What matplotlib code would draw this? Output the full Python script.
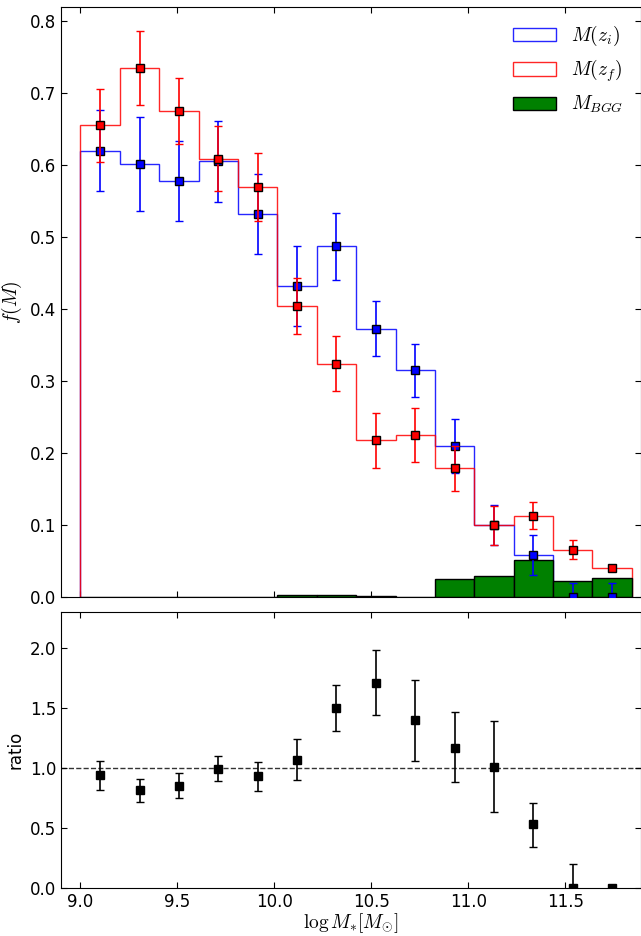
import numpy as np
import matplotlib
matplotlib.use("Agg")
import matplotlib.pyplot as plt

plt.rcParams['mathtext.fontset'] = 'cm'
plt.rcParams['font.size'] = 12
plt.rcParams['xtick.direction'] = 'in'
plt.rcParams['ytick.direction'] = 'in'
plt.rcParams['xtick.top'] = True
plt.rcParams['ytick.right'] = True
plt.rcParams['xtick.major.size'] = 4.5
plt.rcParams['ytick.major.size'] = 4.5

# mass bins (log M*)
edges = np.linspace(9.0, 11.842, 15)
centers = 0.5 * (edges[:-1] + edges[1:])

# mass function at z_i
f_zi = [0.620, 0.601, 0.578, 0.605, 0.532, 0.432, 0.487, 0.373, 0.315, 0.210, 0.100, 0.059, 0.0, 0.0]
f_zi_err = [0.056, 0.065, 0.056, 0.056, 0.056, 0.056, 0.047, 0.038, 0.037, 0.037, 0.028, 0.028, 0.0, 0.0]
f_zi_err_up = [0.056, 0.065, 0.056, 0.056, 0.056, 0.056, 0.047, 0.038, 0.037, 0.037, 0.028, 0.028, 0.019, 0.019]

# mass function at z_f
f_zf = [0.655, 0.735, 0.675, 0.609, 0.569, 0.404, 0.324, 0.218, 0.225, 0.179, 0.100, 0.113, 0.066, 0.040]
f_zf_err = [0.051, 0.051, 0.046, 0.045, 0.047, 0.039, 0.038, 0.038, 0.038, 0.031, 0.027, 0.019, 0.013, 0.003]

# brightest group galaxies
f_bgg = [0.0, 0.0, 0.0, 0.0, 0.0, 0.003, 0.003, 0.002, 0.0, 0.025, 0.029, 0.052, 0.022, 0.026]

# ratio z_i / z_f
ratio = [0.94, 0.82, 0.85, 0.99, 0.93, 1.07, 1.50, 1.71, 1.40, 1.17, 1.01, 0.53, 0.0, 0.0]
ratio_lo = [0.12, 0.10, 0.10, 0.10, 0.12, 0.17, 0.19, 0.27, 0.34, 0.29, 0.38, 0.19, 0.0, 0.0]
ratio_hi = [0.12, 0.09, 0.11, 0.11, 0.12, 0.17, 0.19, 0.27, 0.33, 0.30, 0.38, 0.18, 0.20, 0.0]

fig = plt.figure(figsize=(6.41, 9.36), dpi=100)
ax1 = fig.add_axes([0.0952, 0.362, 0.905, 0.631])
ax2 = fig.add_axes([0.0952, 0.0513, 0.905, 0.295])

ax1.hist(centers, bins=edges, weights=f_zi, histtype='step', color='blue',
         alpha=0.85, label=r'$M(z_i)$')
ax1.hist(centers, bins=edges, weights=f_zf, histtype='step', color='red',
         alpha=0.85, label=r'$M(z_f)$')
ax1.hist(centers, bins=edges, weights=f_bgg, histtype='bar', color='green',
         edgecolor='black', label=r'$M_{BGG}$', zorder=2)

ax1.errorbar(centers, f_zi, yerr=[f_zi_err, f_zi_err_up], fmt='s', color='blue',
             ecolor='blue', mec='black', ms=6, capsize=3, elinewidth=1.2, zorder=4)
ax1.errorbar(centers, f_zf, yerr=f_zf_err, fmt='s', color='red',
             ecolor='red', mec='black', ms=6, capsize=3, elinewidth=1.2, zorder=5)

ax1.set_xlim(8.9, 11.89)
ax1.set_ylim(0, 0.82)
ax1.set_xticks([9.0, 9.5, 10.0, 10.5, 11.0, 11.5])
ax1.set_xticklabels([])
ax1.set_yticks(np.arange(0, 0.81, 0.1))
ax1.set_ylabel(r'$f(M)$', fontsize=14)
ax1.legend(loc='upper right', frameon=False, fontsize=14, handlelength=2.2)

ax2.errorbar(centers, ratio, yerr=[ratio_lo, ratio_hi], fmt='s', color='black',
             ms=6, capsize=3, elinewidth=1.2)
ax2.axhline(1.0, color='black', ls='--', lw=1, alpha=0.8)
ax2.set_xlim(8.9, 11.89)
ax2.set_ylim(0, 2.3)
ax2.set_xticks([9.0, 9.5, 10.0, 10.5, 11.0, 11.5])
ax2.set_yticks([0.0, 0.5, 1.0, 1.5, 2.0])
ax2.set_ylabel('ratio')
ax2.set_xlabel(r'$\log M_{*}[M_{\odot}]$', fontsize=14, labelpad=0)

fig.savefig('out.png', dpi=100)
